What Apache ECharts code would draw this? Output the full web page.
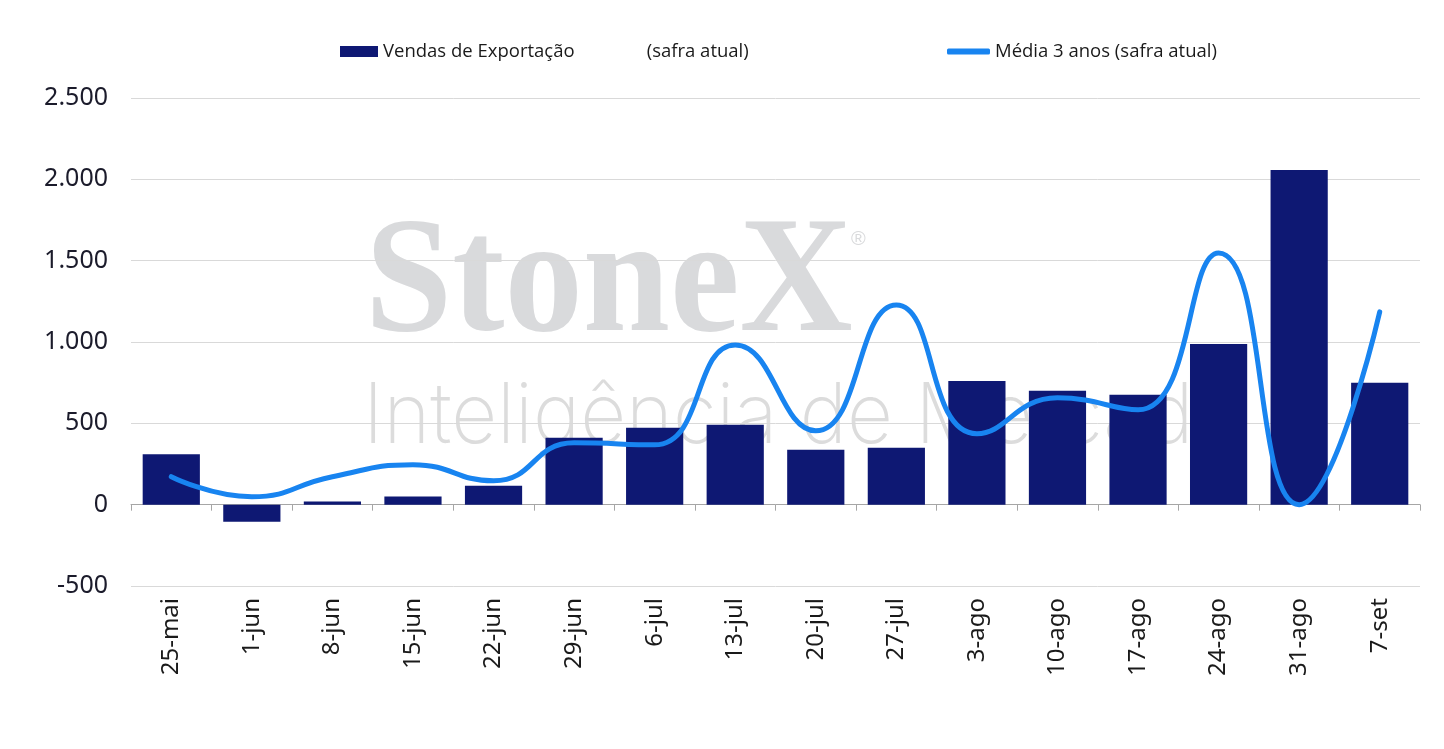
<!DOCTYPE html>
<html><head><meta charset="utf-8">
<script src="https://cdn.jsdelivr.net/npm/echarts@6/dist/echarts.min.js"></script>
<style>html,body{margin:0;padding:0;background:#fff}#c{width:1444px;height:749px}</style>
</head><body><div id="c"></div>
<script>
const categories = ['25-mai','1-jun','8-jun','15-jun','22-jun','29-jun','6-jul','13-jul','20-jul','27-jul','3-ago','10-ago','17-ago','24-ago','31-ago','7-set'];
const exportSales = [310, -105, 20, 50, 117, 411, 473, 491, 338, 350, 761, 700, 675, 988, 2057, 749];
const avg3y = [172, 49, 172, 246, 147, 380, 368, 982, 454, 1228, 436, 657, 583, 1547, 0, 1185];
const yTicks = {min: -500, max: 2500, interval: 500};
const barName = 'Vendas de Exportação               (safra atual)';
const lineName = 'Média 3 anos (safra atual)';

const chart = echarts.init(document.getElementById('c'));
const fmt = v => String(v).replace(/\B(?=(\d{3})+(?!\d))/g, '.');
chart.setOption({
  animation: false,
  graphic: [
    {type:'text', left:365, top:205, z:-10, silent:true, scaleX:0.95,
      style:{text:'StoneX', font:'bold 165px "Liberation Serif"', fill:'#d9dadc'}},
    {type:'text', left:851, top:229, z:-10, silent:true,
      style:{text:'®', font:'20px "Liberation Sans"', fill:'#d9dadc'}},
    {type:'text', left:363, top:376, z:-10, silent:true, scaleX:0.95,
      style:{text:'Inteligência de Mercado', font:'200 84px Inter', fill:'#dcdcdc'}}
  ],
  legend: [
    {data:[barName], left:340, top:42, padding:0, itemWidth:38, itemHeight:11, icon:'rect',
      textStyle:{fontSize:18.5, color:'#1a1a1a', fontFamily:'Open Sans'}},
    {data:[lineName], left:947, top:42, padding:0, itemWidth:43, itemHeight:6, icon:'roundRect',
      textStyle:{fontSize:18.5, color:'#1a1a1a', fontFamily:'Open Sans'}}
  ],
  grid: {left:131, right:24, top:98, bottom:163, containLabel:false},
  xAxis: [
    {type:'category', data:categories, position:'bottom',
      axisLine:{show:false, onZero:false}, axisTick:{show:false},
      axisLabel:{rotate:90, margin:12, fontSize:24, color:'#1a1a1a', fontFamily:'Noto Sans'}},
    {type:'category', data:categories, position:'bottom',
      axisLine:{show:true, onZero:true, lineStyle:{color:'#a6a6a6', width:1}},
      axisTick:{show:true, length:6, lineStyle:{color:'#a6a6a6'}},
      axisLabel:{show:false}}
  ],
  yAxis: {type:'value', min:yTicks.min, max:yTicks.max, interval:yTicks.interval,
    axisLine:{show:false}, axisTick:{show:false},
    splitLine:{lineStyle:{color:'#d9d9d9', width:1}},
    axisLabel:{margin:23, fontSize:25, color:'#1b1b2b', fontFamily:'Noto Sans', formatter:fmt}},
  series: [
    {name:barName, type:'bar', data:exportSales, barWidth:'71%', xAxisIndex:0,
      itemStyle:{color:'#0e1873'}, z:2},
    {name:lineName, type:'line', data:avg3y, smooth:0.5, symbol:'none', xAxisIndex:0,
      lineStyle:{color:'#1884f0', width:5, cap:'round'}, itemStyle:{color:'#1884f0'}, z:3}
  ]
});
</script></body></html>
